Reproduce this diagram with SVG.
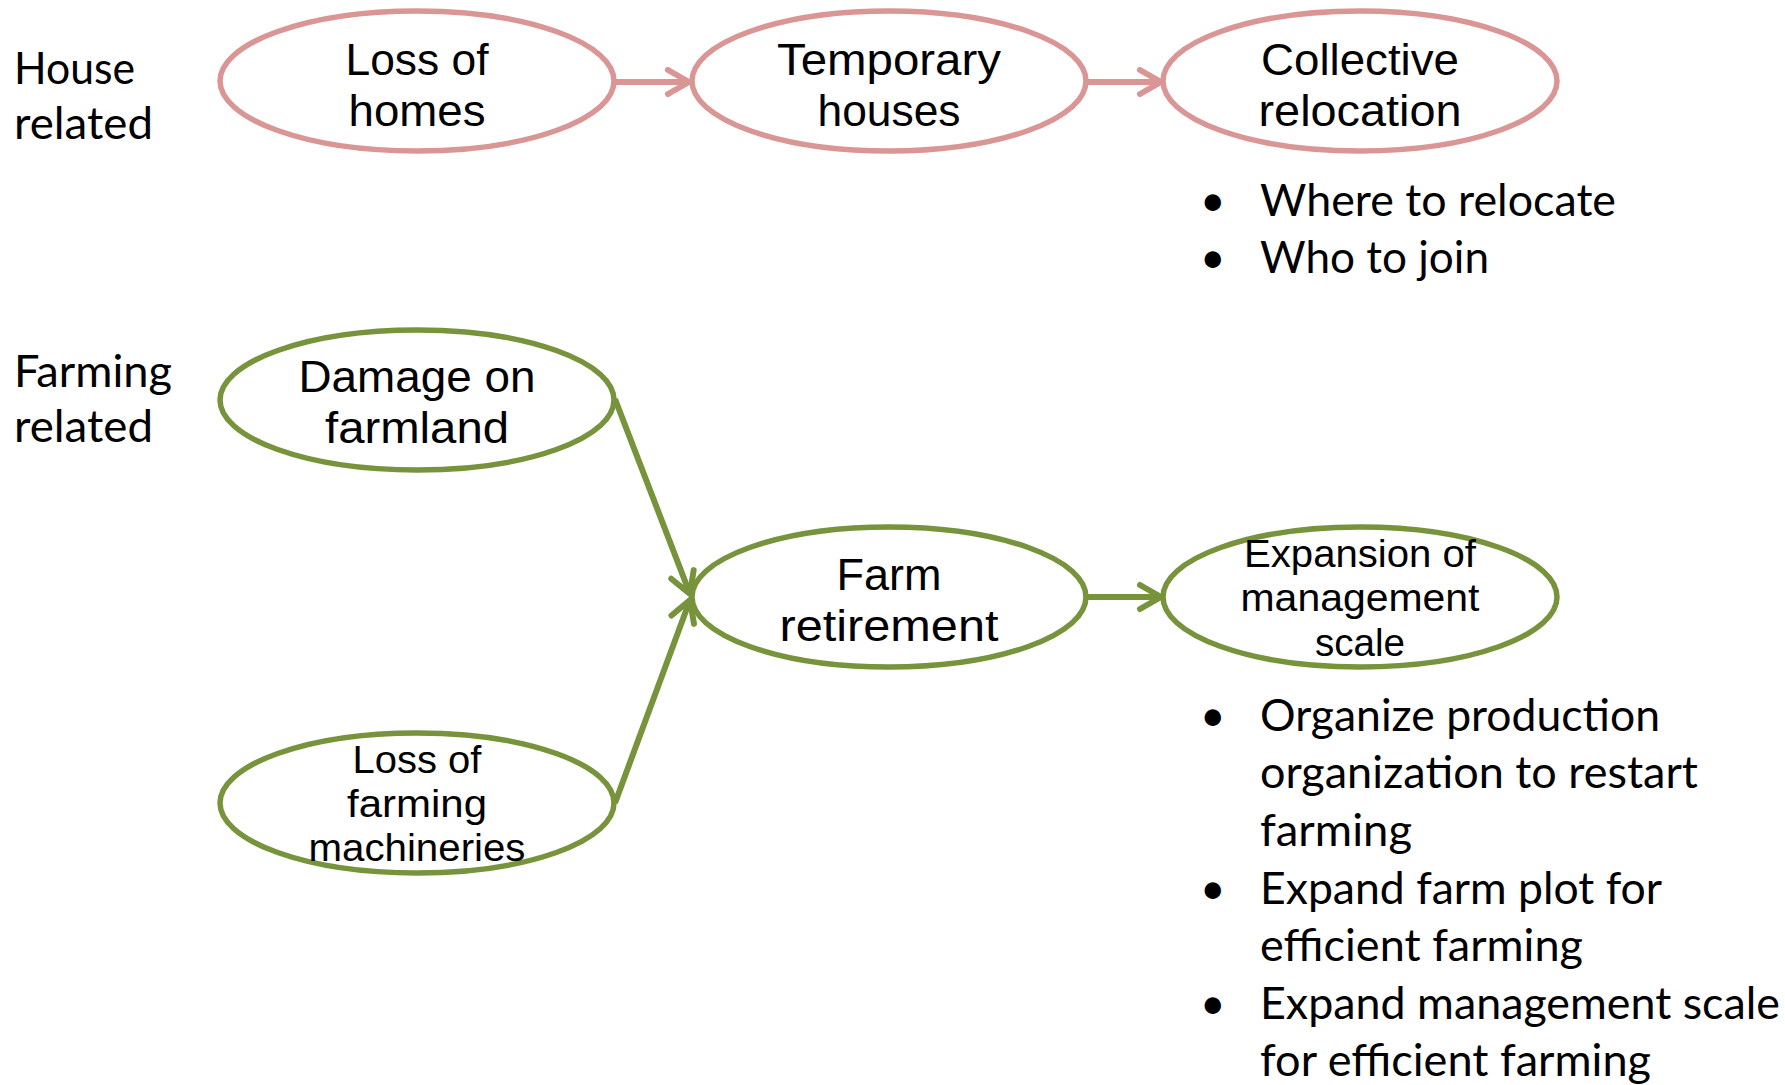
<svg xmlns="http://www.w3.org/2000/svg" width="1785" height="1085" viewBox="0 0 1785 1085">
  <style>
    .house ellipse { fill: #ffffff; stroke: #D99694; stroke-width: 5.5; }
    .farm ellipse { fill: #ffffff; stroke: #77933C; stroke-width: 5.5; }
    .node text { font-family: "Liberation Sans", Arial, sans-serif; font-size: 44px; fill: #000000; text-anchor: middle; }
    .node text.small { font-size: 38px; }
    .label { font-family: Lato, "Liberation Sans", sans-serif; font-size: 44px; fill: #000000; }
    .pink { fill: none; stroke: #D99694; stroke-width: 6; }
    .green { fill: none; stroke: #77933C; stroke-width: 6; }
  </style>
  <defs>
    <marker id="headPink" markerUnits="userSpaceOnUse" markerWidth="40" markerHeight="40" viewBox="-30 -20 40 40" refX="0" refY="0" orient="auto" overflow="visible">
      <path d="M -21,-12 L 0,0 L -21,12" fill="none" stroke="#D99694" stroke-width="6" stroke-linecap="round" stroke-linejoin="round"/>
    </marker>
    <marker id="headGreen" markerUnits="userSpaceOnUse" markerWidth="40" markerHeight="40" viewBox="-30 -20 40 40" refX="0" refY="0" orient="auto" overflow="visible">
      <path d="M -21,-12 L 0,0 L -21,12" fill="none" stroke="#77933C" stroke-width="6" stroke-linecap="round" stroke-linejoin="round"/>
    </marker>
  </defs>

  <rect width="1785" height="1085" fill="#ffffff"/>

  <!-- row labels -->
  <g id="label-house">
    <text class="label" x="14" y="84" textLength="121" lengthAdjust="spacingAndGlyphs">House</text>
    <text class="label" x="14" y="139" textLength="139" lengthAdjust="spacingAndGlyphs">related</text>
  </g>
  <g id="label-farming">
    <text class="label" x="14" y="387" textLength="158" lengthAdjust="spacingAndGlyphs">Farming</text>
    <text class="label" x="14" y="442" textLength="139" lengthAdjust="spacingAndGlyphs">related</text>
  </g>

  <!-- connectors -->
  <g id="connectors">
    <line class="pink" x1="615" y1="82" x2="689" y2="82" marker-end="url(#headPink)"/>
    <line class="pink" x1="1087" y1="82" x2="1161" y2="82" marker-end="url(#headPink)"/>
    <line class="green" x1="615" y1="399" x2="690" y2="594" marker-end="url(#headGreen)"/>
    <line class="green" x1="615" y1="803" x2="690" y2="600" marker-end="url(#headGreen)"/>
    <line class="green" x1="1087" y1="597" x2="1161" y2="597" marker-end="url(#headGreen)"/>
  </g>

  <!-- house related nodes -->
  <g id="loss-of-homes" class="node house">
    <ellipse cx="417" cy="81" rx="197" ry="70"/>
    <text x="417" y="75" textLength="143" lengthAdjust="spacingAndGlyphs">Loss of</text>
    <text x="417" y="126" textLength="137" lengthAdjust="spacingAndGlyphs">homes</text>
  </g>
  <g id="temporary-houses" class="node house">
    <ellipse cx="889" cy="81" rx="197" ry="70"/>
    <text x="889" y="75" textLength="224" lengthAdjust="spacingAndGlyphs">Temporary</text>
    <text x="889" y="126" textLength="143" lengthAdjust="spacingAndGlyphs">houses</text>
  </g>
  <g id="collective-relocation" class="node house">
    <ellipse cx="1360" cy="81" rx="197" ry="70"/>
    <text x="1360" y="75" textLength="198" lengthAdjust="spacingAndGlyphs">Collective</text>
    <text x="1360" y="126" textLength="203" lengthAdjust="spacingAndGlyphs">relocation</text>
  </g>

  <!-- farming related nodes -->
  <g id="damage-on-farmland" class="node farm">
    <ellipse cx="417" cy="400" rx="197" ry="70"/>
    <text x="417" y="392" textLength="237" lengthAdjust="spacingAndGlyphs">Damage on</text>
    <text x="417" y="443" textLength="184" lengthAdjust="spacingAndGlyphs">farmland</text>
  </g>
  <g id="farm-retirement" class="node farm">
    <ellipse cx="889" cy="597" rx="197" ry="70"/>
    <text x="889" y="590" textLength="105" lengthAdjust="spacingAndGlyphs">Farm</text>
    <text x="889" y="641" textLength="219" lengthAdjust="spacingAndGlyphs">retirement</text>
  </g>
  <g id="expansion-of-management-scale" class="node farm">
    <ellipse cx="1360" cy="597" rx="197" ry="70"/>
    <text class="small" x="1360" y="567" textLength="232" lengthAdjust="spacingAndGlyphs">Expansion of</text>
    <text class="small" x="1360" y="611" textLength="239" lengthAdjust="spacingAndGlyphs">management</text>
    <text class="small" x="1360" y="656" textLength="90" lengthAdjust="spacingAndGlyphs">scale</text>
  </g>
  <g id="loss-of-farming-machineries" class="node farm">
    <ellipse cx="417" cy="803" rx="197" ry="70"/>
    <text class="small" x="417" y="773" textLength="129" lengthAdjust="spacingAndGlyphs">Loss of</text>
    <text class="small" x="417" y="817" textLength="140" lengthAdjust="spacingAndGlyphs">farming</text>
    <text class="small" x="417" y="861" textLength="217" lengthAdjust="spacingAndGlyphs">machineries</text>
  </g>

  <!-- notes under the right-hand nodes -->
  <g id="relocation-notes">
    <text class="label" x="1200" y="216">•</text>
    <text class="label" x="1260" y="216" textLength="356" lengthAdjust="spacingAndGlyphs">Where to relocate</text>
    <text class="label" x="1200" y="273">•</text>
    <text class="label" x="1260" y="273" textLength="229" lengthAdjust="spacingAndGlyphs">Who to join</text>
  </g>
  <g id="expansion-notes">
    <text class="label" x="1200" y="731">•</text>
    <text class="label" x="1260" y="731" textLength="400" lengthAdjust="spacingAndGlyphs">Organize production</text>
    <text class="label" x="1260" y="788" textLength="438" lengthAdjust="spacingAndGlyphs">organization to restart</text>
    <text class="label" x="1260" y="846" textLength="152" lengthAdjust="spacingAndGlyphs">farming</text>
    <text class="label" x="1200" y="904">•</text>
    <text class="label" x="1260" y="904" textLength="402" lengthAdjust="spacingAndGlyphs">Expand farm plot for</text>
    <text class="label" x="1260" y="961" textLength="323" lengthAdjust="spacingAndGlyphs">efficient farming</text>
    <text class="label" x="1200" y="1019">•</text>
    <text class="label" x="1260" y="1019" textLength="520" lengthAdjust="spacingAndGlyphs">Expand management scale</text>
    <text class="label" x="1260" y="1076" textLength="391" lengthAdjust="spacingAndGlyphs">for efficient farming</text>
  </g>
</svg>
